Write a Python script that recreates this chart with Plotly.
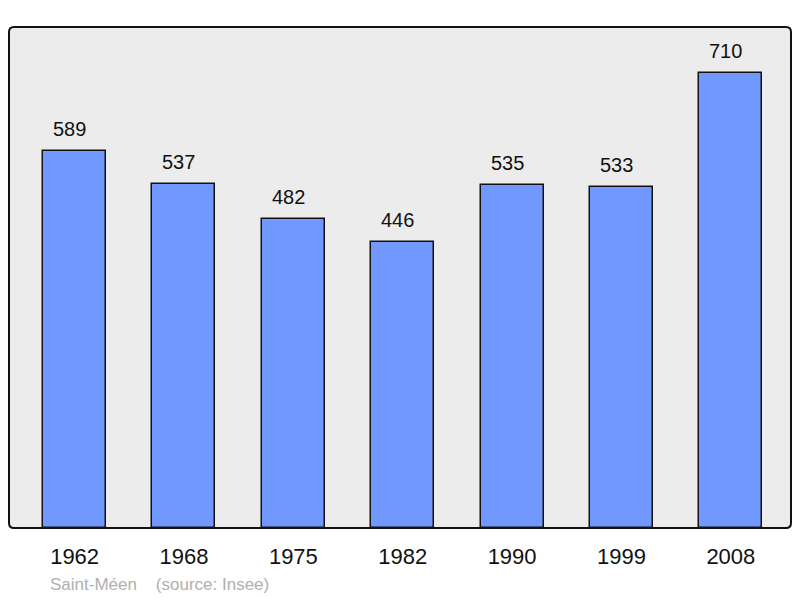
import plotly.graph_objects as go

# population data for Saint-Méen (source: Insee)
years = ["1962", "1968", "1975", "1982", "1990", "1999", "2008"]
population = [589, 537, 482, 446, 535, 533, 710]

fig = go.Figure()
fig.add_trace(go.Bar(
    x=years, y=population,
    width=0.576,
    marker=dict(color="#7098ff", line=dict(color="#111111", width=1.5)),
    hoverinfo="x+y",
))

# value labels above each bar (category axis -> use the category index)
for i, val in enumerate(population):
    fig.add_annotation(x=i, y=val, xref="x", yref="y", text=str(val),
                       showarrow=False, yshift=22, xshift=-5,
                       font=dict(size=20, color="#111111"))

# frame around the plot area with rounded corners
rx, ry = 5 / 782, 5 / 501
frame = (f"M {rx},0 L {1-rx},0 Q 1,0 1,{ry} L 1,{1-ry} Q 1,1 {1-rx},1 "
         f"L {rx},1 Q 0,1 0,{1-ry} L 0,{ry} Q 0,0 {rx},0 Z")
fig.add_shape(type="path", path=frame, xref="paper", yref="paper",
              line=dict(color="#111111", width=2), layer="above")

fig.add_annotation(text="Saint-Méen    (source: Insee)", xref="paper", yref="paper",
                   x=(48 - 9) / 782, y=-56 / 501, xanchor="left", yanchor="middle",
                   showarrow=False, font=dict(size=17, color="#b0b0b0"))

fig.update_layout(
    width=800, height=598,
    margin=dict(l=9, r=9, t=27, b=70),
    paper_bgcolor="white", plot_bgcolor="#ececec",
    font=dict(family="Liberation Sans, Arial, sans-serif", color="#111111"),
    showlegend=False,
    bargap=0,
)
fig.update_xaxes(type="category", range=[-0.60, 6.55], showgrid=False,
                 showline=False, tickfont=dict(size=22), ticks="",
                 ticklabelstandoff=13)
fig.update_yaxes(range=[0, 782], showticklabels=False, showgrid=False,
                 zeroline=False, showline=False, ticks="")

fig.write_html("out.html", config={"displayModeBar": False},
               post_script="document.body.style.margin='0';")
